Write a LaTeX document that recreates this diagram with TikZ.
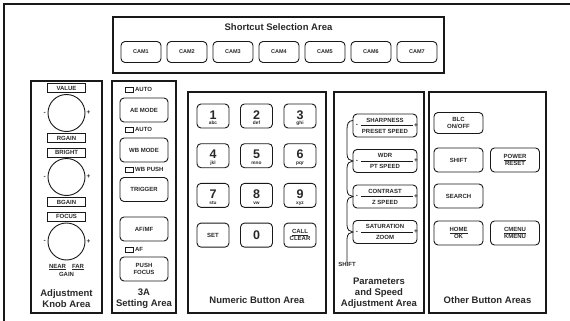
\documentclass[tikz,border=0pt]{standalone}
\usepackage{fontspec}
\setmainfont{Liberation Sans}
\usepackage{tikz}
\usetikzlibrary{positioning,calc}
\definecolor{ink}{RGB}{25, 25, 25}
\definecolor{textdark}{RGB}{40, 40, 40}

\tikzset{
  frame/.style={draw=ink, line width=1.3pt},
  areabox/.style={draw=ink, line width=1.8pt},
  areatitle/.style={text=textdark, font=\fontsize{9.5}{11}\selectfont\bfseries, align=center, inner sep=0pt},
  btn/.style={draw=ink, line width=0.9pt, rounded corners=4pt, minimum width=48pt, minimum height=24pt,
    inner sep=0pt, outer sep=0pt, align=center, text=textdark, font=\fontsize{6}{7}\selectfont\bfseries},
  cambtn/.style={btn, minimum width=40pt, minimum height=21pt, font=\fontsize{5.5}{6}\selectfont\bfseries},
  numkey/.style={btn, minimum width=32pt, minimum height=24pt},
  parbtn/.style={btn, minimum width=64pt, minimum height=23pt},
  lblbox/.style={draw=ink, line width=1pt, minimum width=38pt, minimum height=9pt, inner sep=0pt,
    text=textdark, font=\fontsize{6}{7}\selectfont\bfseries},
  knob/.style={draw=ink, line width=0.9pt, circle, minimum size=37pt, inner sep=0pt},
  lamp/.style={draw=ink, line width=0.8pt, minimum width=8pt, minimum height=5pt, inner sep=0pt},
  smalltext/.style={text=textdark, font=\fontsize{6}{7}\selectfont\bfseries, inner sep=0pt},
  sign/.style={text=textdark, font=\fontsize{6.5}{7}\selectfont\bfseries, inner sep=0.5pt},
  digit/.style={text=textdark, font=\fontsize{12.5}{13}\selectfont\bfseries, inner sep=0pt, text height=9pt, text depth=0pt},
  keysub/.style={text=textdark, font=\fontsize{4.8}{5}\selectfont\bfseries, inner sep=0pt, text height=3.5pt, text depth=1pt},
  bracket/.style={draw=ink, line width=0.8pt}
}

\begin{document}
\begin{tikzpicture}[x=1pt, y=-1pt]
    \useasboundingbox (0,0) rectangle (570,321);
    \draw[frame] (4,321) -- (4,4) -- (570,4);

    % shortcut selection area
    \draw[areabox] (113,17) rectangle (444,73);
    \node[areatitle] (shortcut) at (278.5,27.5) {Shortcut Selection Area};
    \foreach \i in {1,...,7}
        \node[cambtn] (cam\i) at ({141+46*(\i-1)},52) {CAM\i};

    % adjustment knob area
    \draw[areabox] (31,81) rectangle (102,313);
    \node[lblbox] (value) at (66.5,88) {VALUE};
    \node[knob] (valueknob) at (66.5,113) {};
    \node[lblbox] (rgain) at (66.5,138) {RGAIN};
    \node[lblbox] (bright) at (66.5,152.5) {BRIGHT};
    \node[knob] (brightknob) at (66.5,177) {};
    \node[lblbox] (bgain) at (66.5,202) {BGAIN};
    \node[lblbox] (focus) at (66.5,216.5) {FOCUS};
    \node[knob] (focusknob) at (66.5,241.5) {};
    \foreach \k in {valueknob,brightknob,focusknob}{
        \node[sign, left=1pt of \k] {-};
        \node[sign, right=0.5pt of \k] {+};
    }
    \node[smalltext] (nearfar) at (66.5,267) {\underline{NEAR}\hspace{6pt}\underline{FAR}};
    \node[smalltext] (gain) at (66.5,274.5) {GAIN};
    \node[areatitle] (knobtitle) at (66.5,298.5) {Adjustment\\Knob Area};

    % 3A setting area
    \draw[areabox] (112,81) rectangle (176,313);
    \node[lamp] (lampae) at (129,89.5) {};
    \node[smalltext, right=1.5pt of lampae] {AUTO};
    \node[btn] (aemode) at (144,110) {AE MODE};
    \node[lamp] (lampwb) at (129,129.5) {};
    \node[smalltext, right=1.5pt of lampwb] {AUTO};
    \node[btn] (wbmode) at (144,150) {WB MODE};
    \node[lamp] (lamppush) at (129,169.5) {};
    \node[smalltext, right=1.5pt of lamppush] {WB PUSH};
    \node[btn] (trigger) at (144,189.5) {TRIGGER};
    \node[btn] (afmf) at (144,229) {AF/MF};
    \node[lamp] (lampaf) at (129,249.5) {};
    \node[smalltext, right=1.5pt of lampaf] {AF};
    \node[btn] (pushfocus) at (144,269) {PUSH\\FOCUS};
    \node[areatitle] (setting) at (144,298.5) {3A\\Setting Area};

    % numeric button area
    \draw[areabox] (188,92) rectangle (326,313);
    \foreach \d/\s [count=\i from 0] in {1/abc,2/def,3/ghi,4/jkl,5/mno,6/pqr,7/stu,8/vw,9/xyz}{
        \pgfmathsetmacro{\kx}{213+43.5*mod(\i,3)}
        \pgfmathsetmacro{\ky}{116+39.7*int(\i/3)}
        \node[numkey] (key\d) at (\kx,\ky) {};
        \node[digit] at ($(key\d)+(0,-1.5)$) {\d};
        \node[keysub] at ($(key\d)+(0,7.5)$) {\s};
    }
    \node[numkey] (keyset) at (213,235.1) {SET};
    \node[numkey] (key0) at (256.5,235.1) {};
    \node[digit] at (key0) {0};
    \node[numkey] (keycall) at (300,235.1) {\underline{CALL}\\CLEAR};
    \node[areatitle] (numeric) at (257,300) {Numeric Button Area};

    % parameters and speed adjustment area
    \draw[areabox] (334,92) rectangle (424,313);
    \foreach \n/\t/\b/\y in {sharp/SHARPNESS/PRESET SPEED/125.5, wdr/WDR/PT SPEED/161,
                             contr/CONTRAST/Z SPEED/196.5, satur/SATURATION/ZOOM/232}{
        \node[parbtn] (\n) at (385,\y) {};
        \draw[ink, line width=0.7pt] ($(\n)+(-24,0)$) -- ($(\n)+(28,0)$);
        \node[sign] at ($(\n)+(-28,0)$) {-};
        \node[sign] at ($(\n)+(31,0)$) {+};
        \node[smalltext] at ($(\n)+(0,-5.5)$) {\t};
        \node[smalltext] at ($(\n)+(0,5.5)$) {\b};
    }
    \node[smalltext, anchor=north] (shiftlbl) at (347,262.5) {SHIFT};
    \draw[bracket] ($(sharp.west)+(0,-5)$) .. controls +(-5,0) and +(0,-5) .. ($(sharp.west)+(-6,4)$)
        \foreach \b in {wdr,contr,satur}{
            -- ($(\b.west)+(-6,-7)$) .. controls +(0,5) and +(-3,0) .. (\b.west)
            .. controls +(-3,0) and +(0,-5) .. ($(\b.west)+(-6,7)$)
        } -- (shiftlbl.north);
    \node[areatitle] (params) at (379,293.5) {Parameters\\and Speed\\Adjustment Area};

    % other button areas
    \draw[areabox] (429,92) rectangle (546,313);
    \node[btn, minimum width=49pt, minimum height=21pt] (blc) at (458.5,123) {BLC\\ON/OFF};
    \node[btn, minimum width=49pt] (shift) at (458.5,160) {SHIFT};
    \node[btn, minimum width=49pt] (power) at (515,160) {\underline{POWER}\\RESET};
    \node[btn, minimum width=49pt] (search) at (458.5,196) {SEARCH};
    \node[btn, minimum width=49pt] (home) at (458.5,233) {\underline{HOME}\\OK};
    \node[btn, minimum width=49pt] (cmenu) at (515,233) {\underline{CMENU}\\KMENU};
    \node[areatitle] (other) at (487.5,300) {Other Button Areas};
\end{tikzpicture}
\end{document}
